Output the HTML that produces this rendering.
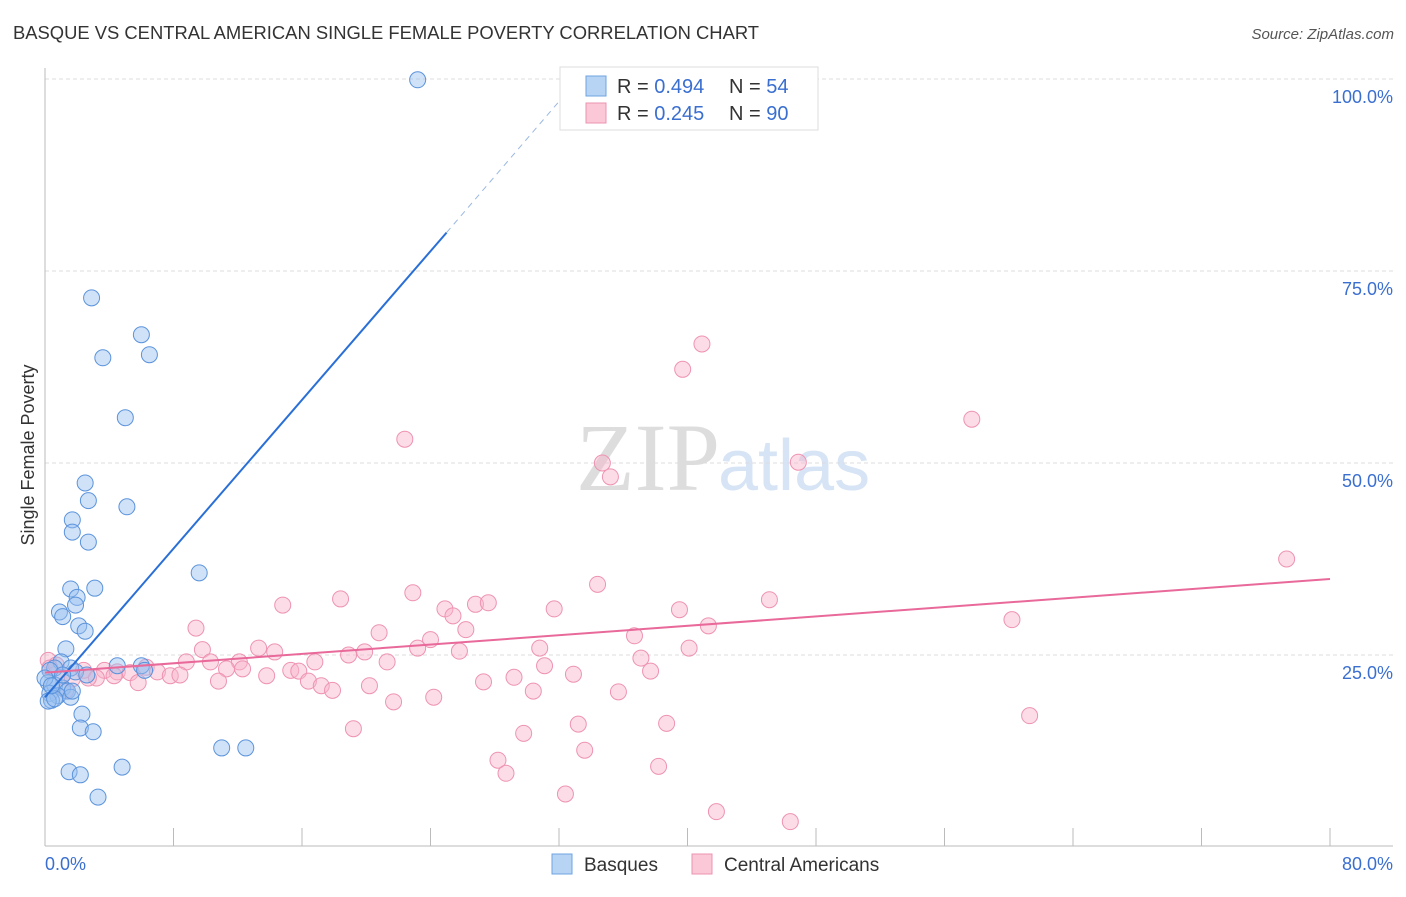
<!DOCTYPE html>
<html><head><meta charset="utf-8"><style>
body{margin:0;background:#fff;font-family:"Liberation Sans",sans-serif;}
</style></head><body>
<svg id="chart" width="1406" height="892" xmlns="http://www.w3.org/2000/svg">
<text x="13" y="39" font-size="18.4" fill="#333">BASQUE VS CENTRAL AMERICAN SINGLE FEMALE POVERTY CORRELATION CHART</text>
<text x="1394" y="39" font-size="15" fill="#555" font-style="italic" text-anchor="end">Source: ZipAtlas.com</text>
<text x="720" y="490" font-size="96" fill="#ddd" font-family="Liberation Serif" text-anchor="end">ZIP</text>
<text x="718" y="490" font-size="72" fill="#d6e4f5">atlas</text>
<text transform="translate(34,455) rotate(-90)" font-size="18" fill="#333" text-anchor="middle">Single Female Poverty</text>
<g id="grid"></g><g id="axes"></g><g id="pts"></g><g id="lines"></g>
<g>
<rect x="560" y="67" width="258" height="63" fill="#fff" stroke="#ddd"/>
<rect x="586" y="76" width="20" height="20" fill="#b8d4f5" stroke="#6fa3e0"/>
<rect x="586" y="103" width="20" height="20" fill="#fbc8d8" stroke="#ee93b1"/>
<text x="617" y="93" font-size="20" fill="#333">R = <tspan fill="#3a6fd0">0.494</tspan></text>
<text x="729" y="93" font-size="20" fill="#333">N = <tspan fill="#3a6fd0">54</tspan></text>
<text x="617" y="120" font-size="20" fill="#333">R = <tspan fill="#3a6fd0">0.245</tspan></text>
<text x="729" y="120" font-size="20" fill="#333">N = <tspan fill="#3a6fd0">90</tspan></text>
</g>
<g>
<rect x="552" y="854" width="20" height="20" fill="#b8d4f5" stroke="#6fa3e0"/>
<text x="584" y="871" font-size="19" fill="#333">Basques</text>
<rect x="692" y="854" width="20" height="20" fill="#fbc8d8" stroke="#ee93b1"/>
<text x="724" y="871" font-size="19" fill="#333">Central Americans</text>
</g>
</svg>
<script>
const NS="http://www.w3.org/2000/svg";
const xTicks=[0,8,16,24,32,40,48,56,64,72,80];
const yTicks=[25,50,75,100];
const blueX=[23.2,2.9,6.0,6.5,3.6,5.0,2.5,2.7,5.1,1.7,1.7,2.7,9.6,1.6,3.1,2.0,1.9,0.9,1.1,2.1,2.5,1.3,1.0,4.5,6.0,6.2,0.6,1.6,0.3,1.9,2.6,0.2,0.6,1.1,1.4,0.3,0.8,1.6,0.4,0.2,0.6,2.3,2.2,3.0,11.0,12.5,1.5,2.2,4.8,3.3,0.0,1.1,1.7,0.4];
const blueY=[99.9,71.5,66.7,64.1,63.7,55.9,47.4,45.1,44.3,42.6,41.0,39.7,35.7,33.6,33.7,32.5,31.5,30.6,30.0,28.8,28.1,25.8,24.1,23.6,23.6,23.0,23.3,23.3,23.0,22.8,22.4,21.4,21.1,20.7,20.3,20.0,19.7,19.5,19.1,19.0,19.3,17.3,15.5,15.0,12.9,12.9,9.8,9.4,10.4,6.5,22.0,22.4,20.3,21.0];
const pinkX=[40.9,39.7,57.7,22.4,34.7,35.2,46.9,77.3,34.4,22.9,45.1,18.4,14.8,24.9,26.8,27.6,31.7,39.5,25.4,60.2,41.3,9.4,20.8,26.2,24.0,36.7,14.3,9.8,13.3,25.8,30.8,40.1,23.2,19.9,18.9,8.8,10.3,12.1,11.3,37.1,16.8,21.3,31.1,37.7,0.2,0.7,2.4,3.7,4.5,5.3,6.3,7.0,7.8,8.4,3.2,2.7,1.1,1.7,4.3,15.3,12.3,13.8,15.8,32.9,29.2,5.8,10.8,16.4,17.2,17.9,20.2,27.3,30.4,35.7,24.2,21.7,33.2,38.7,19.2,61.3,29.8,33.6,28.2,28.7,38.2,32.4,41.8,46.4,0.3,1.3];
const pinkY=[65.5,62.2,55.7,53.1,50.0,48.2,50.1,37.5,34.2,33.1,32.2,32.3,31.5,31.0,31.6,31.8,31.0,30.9,30.1,29.6,28.8,28.5,27.9,28.3,27.0,27.5,25.4,25.7,25.9,25.5,25.9,25.9,25.9,25.4,25.0,24.1,24.1,24.1,23.2,24.6,24.1,24.1,23.6,22.9,24.3,23.7,23.0,23.0,22.8,22.7,23.4,22.8,22.3,22.4,22.0,22.0,22.4,21.9,22.3,23.0,23.2,22.3,22.9,22.5,22.1,21.4,21.6,21.6,21.0,20.4,21.0,21.5,20.3,20.2,19.5,18.9,16.0,16.1,15.4,17.1,14.8,12.6,11.3,9.6,10.5,6.9,4.6,3.3,23.3,20.4];
const blueFit=[[0,19.5],[25,80]], blueDash=[[25,80],[33.2,100]];
const pinkFit=[[0,22.7],[80,34.9]];
const X=v=>45+v*1285/80, Y=v=>847-v*7.68;
function mk(tag,attrs,parent){const e=document.createElementNS(NS,tag);for(const k in attrs)e.setAttribute(k,attrs[k]);document.getElementById(parent).appendChild(e);return e;}
yTicks.forEach(t=>{
 const l=mk('line',{x1:45,x2:1393,y1:Y(t),y2:Y(t),stroke:'#ddd','stroke-dasharray':'4,3'},'grid');
 
 
 const tx=mk('text',{x:1393,y:Y(t)+24,'font-size':18,fill:'#3a6fd0','text-anchor':'end'},'grid');tx.textContent=t.toFixed(1)+'%';
 
 
});
mk('line',{x1:45,x2:45,y1:68,y2:846,stroke:'#bbb'},'axes');
mk('line',{x1:45,x2:1393,y1:846,y2:846,stroke:'#bbb'},'axes');
xTicks.forEach(t=>{const l=mk('line',{x1:X(t),x2:X(t),y1:828,y2:846,stroke:'#bbb'},'axes');
 
 });
const xl0=mk('text',{x:45,y:870,'font-size':18,fill:'#3a6fd0'},'axes');xl0.textContent='0.0%';


const xl1=mk('text',{x:1393,y:870,'font-size':18,fill:'#3a6fd0','text-anchor':'end'},'axes');xl1.textContent='80.0%';


pinkX.forEach((v,i)=>{const c=mk('circle',{cx:X(v),cy:Y(pinkY[i]),r:8,fill:'rgba(248,180,202,0.45)',stroke:'#ee93b1','stroke-width':1},'pts');
 
 });
blueX.forEach((v,i)=>{const c=mk('circle',{cx:X(v),cy:Y(blueY[i]),r:8,fill:'rgba(150,190,240,0.45)',stroke:'#5b93dc','stroke-width':1},'pts');
 
 });
const bl=mk('line',{x1:X(blueFit[0][0]),y1:Y(blueFit[0][1]),x2:X(blueFit[1][0]),y2:Y(blueFit[1][1]),stroke:'#2a6fd6','stroke-width':2},'lines');


const bd=mk('line',{x1:X(blueDash[0][0]),y1:Y(blueDash[0][1]),x2:X(blueDash[1][0]),y2:Y(blueDash[1][1]),stroke:'#9bb8e0','stroke-width':1,'stroke-dasharray':'6,5'},'lines');


const pl=mk('line',{x1:X(pinkFit[0][0]),y1:Y(pinkFit[0][1]),x2:X(pinkFit[1][0]),y2:Y(pinkFit[1][1]),stroke:'#e8699a','stroke-width':2},'lines');


</script>
</body></html>
